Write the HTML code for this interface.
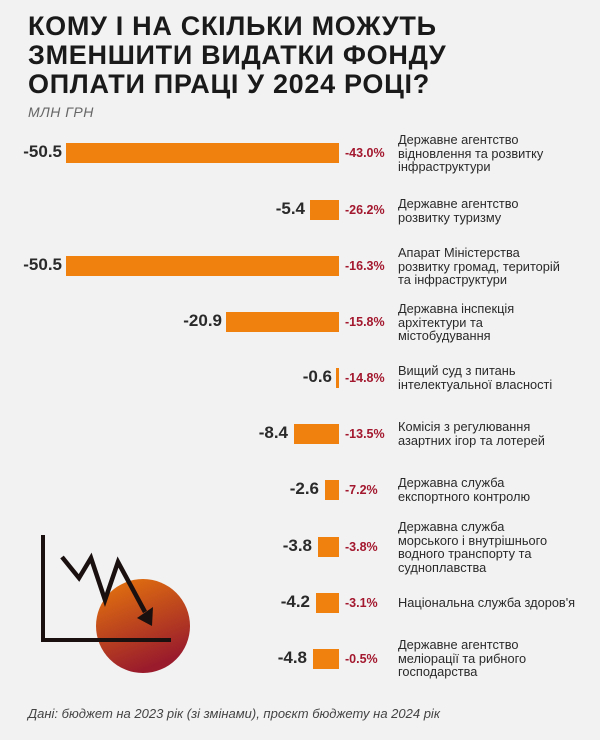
<!DOCTYPE html>
<html><head><meta charset="utf-8"><style>
body{margin:0;background:#f2f2f2;font-family:"Liberation Sans",sans-serif;}
#c{position:relative;width:600px;height:740px;overflow:hidden;background:#f2f2f2}
h1{position:absolute;left:28px;top:12px;margin:0;font-size:27px;line-height:29px;font-weight:900;color:#1a1a1a;letter-spacing:0.7px}
.sub{position:absolute;left:28px;top:104px;font-style:italic;color:#666;font-size:14px;letter-spacing:0.5px}
.row{position:absolute;left:0;width:600px;height:20px}
.bar{position:absolute;right:261px;top:0;height:20px;background:#f0810f}
.val{position:absolute;top:-1px;font-size:17px;font-weight:bold;color:#2a2a2a;text-align:right;width:80px}
.pct{position:absolute;left:345px;top:3px;font-size:12.5px;font-weight:bold;color:#a3182e}
.lab{position:absolute;left:398px;font-size:12.8px;line-height:13.5px;color:#2a2a2a;width:202px}
.foot{position:absolute;left:28px;top:706px;font-style:italic;color:#444;font-size:13px}
</style></head><body><div id="c">
<h1>КОМУ І НА СКІЛЬКИ МОЖУТЬ<br>ЗМЕНШИТИ ВИДАТКИ ФОНДУ<br>ОПЛАТИ ПРАЦІ У 2024 РОЦІ?</h1>
<div class="sub">МЛН ГРН</div>
<svg style="position:absolute;left:0;top:0" width="600" height="740">
<defs><linearGradient id="g" x1="0" y1="0" x2="0.4" y2="1"><stop offset="0" stop-color="#e8780c"/><stop offset="1" stop-color="#9a1c2c"/></linearGradient></defs>
<circle cx="143" cy="626" r="47" fill="url(#g)"/>
<polyline points="43,535 43,640 171,640" fill="none" stroke="#1a1010" stroke-width="4"/>
<polyline points="62,557 79,578 91,558 105,600 118,562 145,612" fill="none" stroke="#1a1010" stroke-width="4.5" stroke-linejoin="miter"/>
<polygon points="137,618 153,607 152,626" fill="#1a1010"/>
</svg>
<div class="row" style="top:143px"><div class="bar" style="width:273px"></div><div class="val" style="left:-18px">-50.5</div><div class="pct">-43.0%</div><div class="lab" style="top:-10px">Державне агентство<br>відновлення та розвитку<br>інфраструктури</div></div>
<div class="row" style="top:200px"><div class="bar" style="width:29px"></div><div class="val" style="left:225px">-5.4</div><div class="pct">-26.2%</div><div class="lab" style="top:-3px">Державне агентство<br>розвитку туризму</div></div>
<div class="row" style="top:256px"><div class="bar" style="width:273px"></div><div class="val" style="left:-18px">-50.5</div><div class="pct">-16.3%</div><div class="lab" style="top:-10px">Апарат Міністерства<br>розвитку громад, територій<br>та інфраструктури</div></div>
<div class="row" style="top:312px"><div class="bar" style="width:113px"></div><div class="val" style="left:142px">-20.9</div><div class="pct">-15.8%</div><div class="lab" style="top:-10px">Державна інспекція<br>архітектури та<br>містобудування</div></div>
<div class="row" style="top:368px"><div class="bar" style="width:3px"></div><div class="val" style="left:252px">-0.6</div><div class="pct">-14.8%</div><div class="lab" style="top:-4px">Вищий суд з питань<br>інтелектуальної власності</div></div>
<div class="row" style="top:424px"><div class="bar" style="width:45px"></div><div class="val" style="left:208px">-8.4</div><div class="pct">-13.5%</div><div class="lab" style="top:-4px">Комісія з регулювання<br>азартних ігор та лотерей</div></div>
<div class="row" style="top:480px"><div class="bar" style="width:14px"></div><div class="val" style="left:239px">-2.6</div><div class="pct">-7.2%</div><div class="lab" style="top:-4px">Державна служба<br>експортного контролю</div></div>
<div class="row" style="top:537px"><div class="bar" style="width:21px"></div><div class="val" style="left:232px">-3.8</div><div class="pct">-3.8%</div><div class="lab" style="top:-17px">Державна служба<br>морського і внутрішнього<br>водного транспорту та<br>судноплавства</div></div>
<div class="row" style="top:593px"><div class="bar" style="width:23px"></div><div class="val" style="left:230px">-4.2</div><div class="pct">-3.1%</div><div class="lab" style="top:3px">Національна служба здоров'я</div></div>
<div class="row" style="top:649px"><div class="bar" style="width:26px"></div><div class="val" style="left:227px">-4.8</div><div class="pct">-0.5%</div><div class="lab" style="top:-11px">Державне агентство<br>меліорації та рибного<br>господарства</div></div>
<div class="foot">Дані: бюджет на 2023 рік (зі змінами), проєкт бюджету на 2024 рік</div>
</div></body></html>
